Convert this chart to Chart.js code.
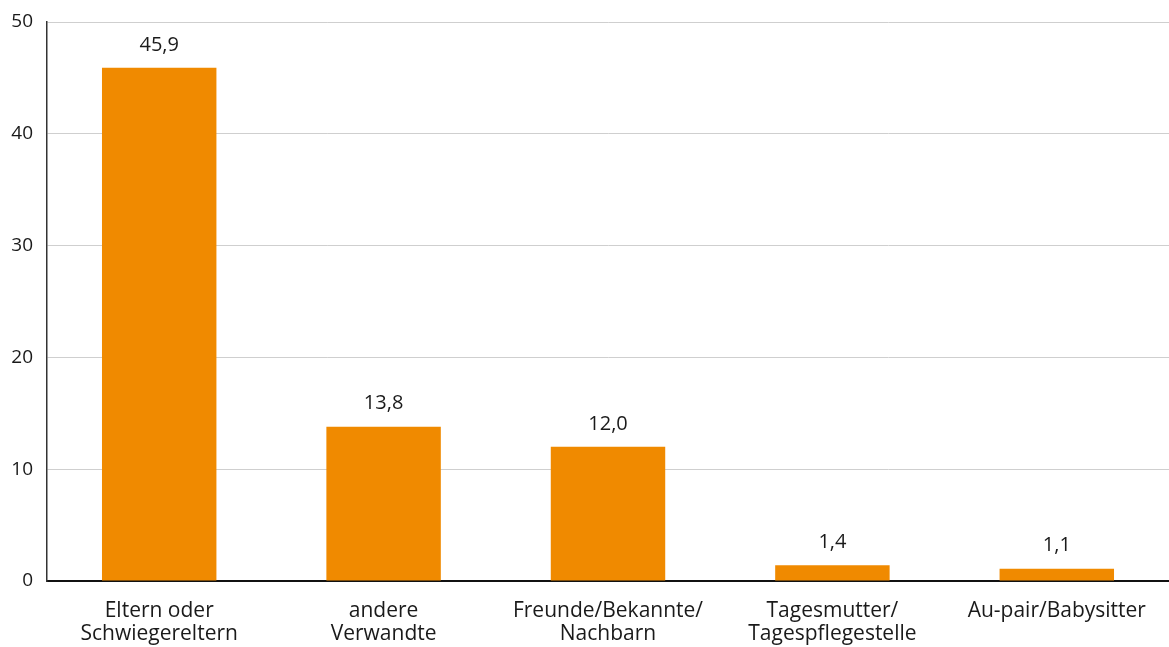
<!DOCTYPE html>
<html lang="de">
<head>
<meta charset="utf-8">
<title>Betreuung durch Personen</title>
<script src="https://cdn.jsdelivr.net/npm/chart.js@4/dist/chart.umd.min.js"></script>
<style>
  html, body { margin: 0; padding: 0; background: #ffffff; }
  #wrap { width: 1169px; height: 647px; position: relative; }
</style>
</head>
<body>
<div id="wrap"><canvas id="chart"></canvas></div>
<script>
// Kategorien (mehrzeilig) und Anteile in Prozent
const categories = [
  ["Eltern oder", "Schwiegereltern"],
  ["andere", "Verwandte"],
  ["Freunde/Bekannte/", "Nachbarn"],
  ["Tagesmutter/", "Tagespflegestelle"],
  ["Au-pair/Babysitter"]
];
const shares = [45.9, 13.8, 12.0, 1.4, 1.1];
const yTicks = [0, 10, 20, 30, 40, 50];

const ORANGE = "#F08A00";
const TEXT = "#1a1a1a";
const FONT = "'Open Sans', 'DejaVu Sans', sans-serif";

// Zahlenwerte mit deutschem Dezimalkomma über den Balken
const valueLabels = {
  id: "valueLabels",
  afterDatasetsDraw(chart) {
    const ctx = chart.ctx;
    const meta = chart.getDatasetMeta(0);
    ctx.save();
    ctx.font = "20px " + FONT;
    ctx.fillStyle = TEXT;
    ctx.textAlign = "center";
    ctx.textBaseline = "middle";
    meta.data.forEach((bar, i) => {
      const txt = shares[i].toFixed(1).replace(".", ",");
      ctx.fillText(txt, bar.x, bar.y - 23);
    });
    ctx.restore();
  }
};

new Chart(document.getElementById("chart"), {
  type: "bar",
  data: {
    labels: categories,
    datasets: [{
      data: shares,
      backgroundColor: ORANGE,
      borderWidth: 0,
      barPercentage: 0.51,
      categoryPercentage: 1.0
    }]
  },
  options: {
    responsive: true,
    maintainAspectRatio: false,
    animation: false,
    layout: { padding: { top: 22, right: 0, bottom: 0, left: 0 } },
    plugins: {
      legend: { display: false },
      tooltip: { enabled: false }
    },
    scales: {
      x: {
        afterFit(axis) { axis.height = 66; },
        grid: { display: false, drawTicks: false },
        border: { display: true, color: "#111111", width: 2 },
        ticks: {
          color: TEXT,
          font: { family: FONT, size: 21, lineHeight: 1.1 },
          padding: 18,
          maxRotation: 0,
          autoSkip: false
        }
      },
      y: {
        min: 0,
        max: 50,
        afterFit(axis) { axis.width = 47; },
        afterBuildTicks(axis) {
          axis.ticks = yTicks.map(v => ({ value: v }));
        },
        grid: { color: "#cfcfcf", lineWidth: 1, drawTicks: false },
        border: { display: true, color: "#333333", width: 1.5 },
        ticks: {
          color: TEXT,
          font: { family: FONT, size: 19, lineHeight: 0.8 },
          padding: 14
        }
      }
    }
  },
  plugins: [valueLabels]
});
</script>
</body>
</html>
